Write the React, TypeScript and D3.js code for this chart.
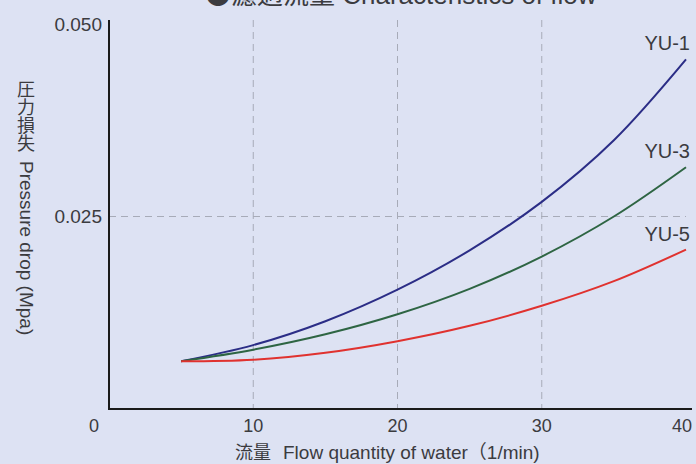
import React from 'react';
import * as d3 from 'd3';

// flow (l/min) vs pressure drop (MPa)
const flow = [5, 10, 15, 20, 25, 30, 35, 40];
const yu1 = [0.0062, 0.0083, 0.0114, 0.0155, 0.0206, 0.0269, 0.0349, 0.0454];
const yu3 = [0.0062, 0.0077, 0.0097, 0.0123, 0.0156, 0.0198, 0.0250, 0.0314];
const yu5 = [0.0062, 0.0064, 0.0073, 0.0088, 0.0108, 0.0134, 0.0166, 0.0207];

const seriesNames = ['YU-1', 'YU-3', 'YU-5'];
const seriesValues = [yu1, yu3, yu5];
const seriesColors = ['#2b2d86', '#2e6543', '#e0322f'];

const xTicks = [0, 10, 20, 30, 40];
const yTicks = [0.025, 0.05];
const yTickLabels = ['0.025', '0.050'];

const W = 696;
const H = 464;
const sans = '"Liberation Sans", Arial, sans-serif';
const cjk = '"Noto Sans CJK JP", sans-serif';
const textColor = '#3b3b3f';

const App: React.FC = () => {
  const x = d3.scaleLinear().domain([0, 40]).range([109, 686]);
  const y = d3.scaleLinear().domain([0, 0.05]).range([409, 24]);

  const line = d3
    .line<[number, number]>()
    .x(d => x(d[0]))
    .y(d => y(d[1]))
    .curve(d3.curveCatmullRom);

  return (
    <svg
      width={W}
      height={H}
      style={{ position: 'absolute', left: 0, top: 0, background: '#dde2f3' }}
    >
      {/* title, cut off at the top edge */}
      <text x={205} y={4} fontFamily={sans} fontSize={26} fill={textColor}>
        <tspan fontFamily={cjk}>●濾過流量</tspan> Characteristics of flow
      </text>

      {/* dashed grid */}
      {xTicks.slice(1, 4).map(t => (
        <line
          key={'gx' + t}
          x1={x(t)}
          x2={x(t)}
          y1={y(0.05) - 4}
          y2={y(0)}
          stroke="#a7abb8"
          strokeWidth={1}
          strokeDasharray="7,5"
        />
      ))}
      <line
        x1={x(0)}
        x2={x(40)}
        y1={y(0.025)}
        y2={y(0.025)}
        stroke="#a7abb8"
        strokeWidth={1}
        strokeDasharray="7,5"
      />

      {/* axes */}
      <line x1={x(0)} x2={x(0)} y1={20} y2={y(0) + 1} stroke="#1a1a1a" strokeWidth={2} />
      <line x1={x(0) - 1} x2={692} y1={y(0)} y2={y(0)} stroke="#1a1a1a" strokeWidth={2} />

      {/* x tick labels */}
      {xTicks.map(t => (
        <text
          key={'xt' + t}
          x={t === 0 ? x(0) - 15 : t === 40 ? x(t) - 4 : x(t)}
          y={432}
          textAnchor="middle"
          fontFamily={sans}
          fontSize={18}
          fill={textColor}
        >
          {t}
        </text>
      ))}

      {/* y tick labels */}
      {yTicks.map((t, i) => (
        <text
          key={'yt' + t}
          x={102}
          y={y(t)}
          dy="0.35em"
          textAnchor="end"
          fontFamily={sans}
          fontSize={19}
          fill={textColor}
        >
          {yTickLabels[i]}
        </text>
      ))}

      {/* curves */}
      {seriesValues.map((vals, i) => (
        <path
          key={seriesNames[i]}
          d={line(flow.map((f, j) => [f, vals[j]] as [number, number])) || ''}
          fill="none"
          stroke={seriesColors[i]}
          strokeWidth={2}
        />
      ))}

      {/* curve labels */}
      {seriesNames.map((n, i) => (
        <text
          key={'lab' + n}
          x={690}
          y={y(seriesValues[i][seriesValues[i].length - 1]) - 9}
          textAnchor="end"
          fontFamily={sans}
          fontSize={20}
          fill={textColor}
        >
          {n}
        </text>
      ))}

      {/* y axis title, vertical writing */}
      <text
        x={26}
        y={80}
        fontFamily={sans}
        fontSize={18}
        fill={textColor}
        style={{ writingMode: 'vertical-rl' }}
      >
        <tspan fontFamily={cjk}>圧力損失</tspan>
        <tspan dy={9} fontSize={19}>Pressure drop (Mpa)</tspan>
      </text>

      {/* x axis title */}
      <text x={235} y={459} fontFamily={sans} fontSize={19} fill={textColor}>
        <tspan fontFamily={cjk} fontSize={18}>流量</tspan>
        <tspan dx={12}>Flow quantity of water</tspan>
        <tspan fontFamily={cjk}>（</tspan>
        <tspan>1/min)</tspan>
      </text>
    </svg>
  );
};

export default App;
